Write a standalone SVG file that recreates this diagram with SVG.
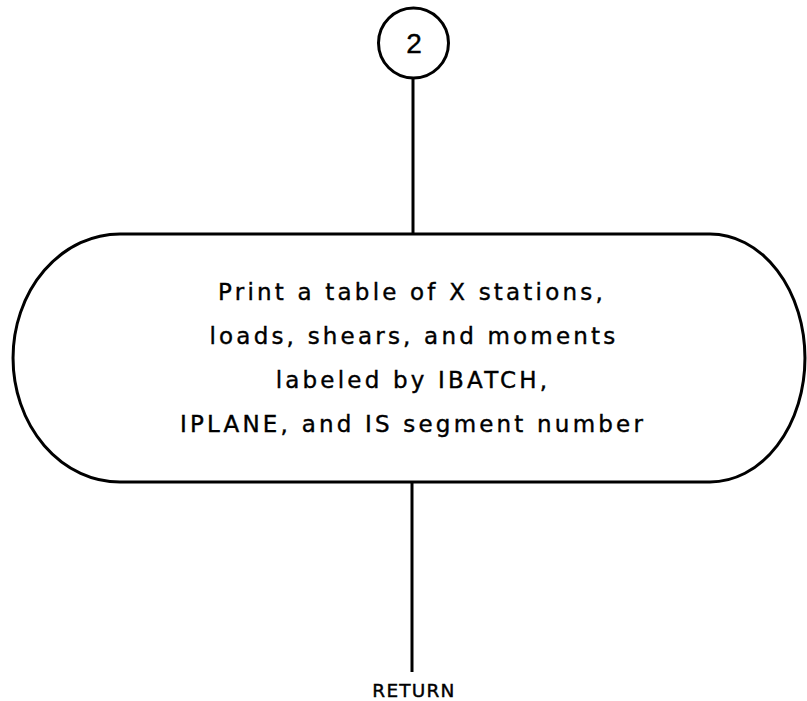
<svg xmlns="http://www.w3.org/2000/svg" width="807" height="701" viewBox="0 0 807 701">
<style>
.s{fill:none;stroke:#000;stroke-width:3}
.t{font-family:"DejaVu Sans",sans-serif;font-size:23px;letter-spacing:3.2px;text-anchor:middle;fill:#000;stroke:#000;stroke-width:0.4}
</style>
<rect width="807" height="701" fill="#fff"/>
<g id="connectors">
<line class="s" x1="413" y1="78" x2="413" y2="235"/>
<line class="s" x1="412" y1="482" x2="412" y2="672"/>
</g>
<g id="connector2">
<circle class="s" cx="413.5" cy="43" r="35"/>
<text x="414" y="53" style="font-size:28px;font-family:'Liberation Sans',sans-serif;text-anchor:middle;stroke:#000;stroke-width:0.4">2</text>
</g>
<g id="print">
<path class="s" d="M120 234 L710 234 A95 124 0 0 1 710 482 L120 482 A107 124 0 0 1 120 234 Z"/>
<text class="t" x="412" y="300">Print a table of X stations,</text>
<text class="t" x="414" y="344">loads, shears, and moments</text>
<text class="t" x="413" y="388">labeled by IBATCH,</text>
<text class="t" x="413" y="432">IPLANE, and IS segment number</text>
</g>
<g id="return">
<text class="t" x="414" y="697" style="font-size:18.5px;letter-spacing:1.2px">RETURN</text>
</g>
</svg>
